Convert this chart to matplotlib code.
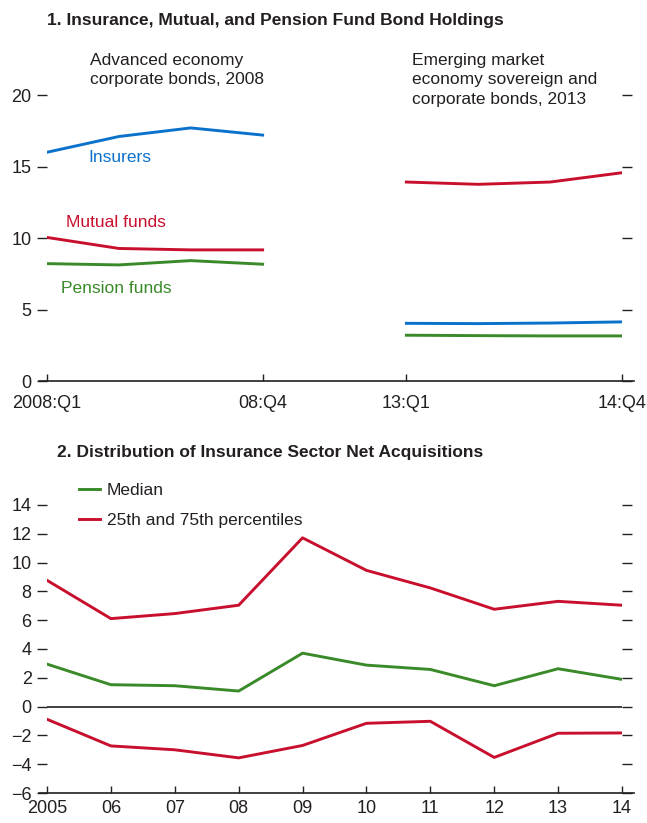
import matplotlib
matplotlib.use("Agg")
import matplotlib.pyplot as plt
import numpy as np

plt.rcParams['font.family'] = ['Liberation Sans', 'DejaVu Sans']
plt.rcParams['axes.unicode_minus'] = True

# ---- Panel 1 data ----
adv_quarters = ["2008:Q1", "08:Q2", "08:Q3", "08:Q4"]
em_quarters = ["13:Q1", "13:Q2", "13:Q3", "14:Q4"]
insurers_2008 = [16.0, 17.1, 17.7, 17.2]
mutual_2008 = [10.05, 9.28, 9.18, 9.18]
pension_2008 = [8.22, 8.13, 8.43, 8.18]
insurers_2013 = [4.05, 4.03, 4.07, 4.15]
mutual_2013 = [13.92, 13.76, 13.92, 14.57]
pension_2013 = [3.22, 3.19, 3.17, 3.17]
p1_xlabels = ["2008:Q1", "08:Q4", "13:Q1", "14:Q4"]
p1_yticks = [0, 5, 10, 15, 20]

# ---- Panel 2 data ----
years = ["2005", "06", "07", "08", "09", "10", "11", "12", "13", "14"]
p75 = [8.77, 6.11, 6.46, 7.04, 11.72, 9.46, 8.24, 6.76, 7.31, 7.04]
median = [2.95, 1.52, 1.45, 1.08, 3.71, 2.88, 2.58, 1.45, 2.63, 1.89]
p25 = [-0.88, -2.73, -3.0, -3.56, -2.7, -1.16, -1.02, -3.53, -1.85, -1.83]
p2_yticks = [-6, -4, -2, 0, 2, 4, 6, 8, 10, 12, 14]

BLUE = '#0b72cc'
RED = '#c8102e'
GREEN = '#3a8a2a'
TXT = '#231f20'
FS = 12.5
TFS = 13
LW = 2.1

W, H = 647, 823
fig = plt.figure(figsize=(W / 100, H / 100), dpi=100)

def style(ax, xpad):
    for s in ['top', 'left', 'right', 'bottom']:
        ax.spines[s].set_visible(False)
    ax.tick_params(axis='y', which='both', direction='out', length=7, width=1,
                   color=TXT, labelsize=TFS, labelcolor=TXT, pad=4,
                   left=True, right=True, labelleft=True, labelright=False)
    ax.tick_params(axis='x', direction='in', length=5, width=1, color=TXT,
                   labelsize=TFS, labelcolor=TXT, pad=xpad)
    ax.plot([-0.014, 1.02], [0, 0], transform=ax.transAxes, color=TXT,
            lw=1.2, clip_on=False, zorder=5)

# ---------- Panel 1 ----------
ax1 = fig.add_axes([47 / W, 1 - 381.3 / H, 575 / W, 286.3 / H])
style(ax1, 10)
x_adv = np.arange(len(adv_quarters))
x_em = np.arange(len(em_quarters)) + 5
ax1.plot(x_adv, insurers_2008, color=BLUE, lw=LW, solid_joinstyle='round')
ax1.plot(x_adv, mutual_2008, color=RED, lw=LW, solid_joinstyle='round')
ax1.plot(x_adv, pension_2008, color=GREEN, lw=LW, solid_joinstyle='round')
ax1.plot(x_em, insurers_2013, color=BLUE, lw=LW, solid_joinstyle='round')
ax1.plot(x_em, mutual_2013, color=RED, lw=LW, solid_joinstyle='round')
ax1.plot(x_em, pension_2013, color=GREEN, lw=LW, solid_joinstyle='round')
ax1.set_xlim(0, 8)
ax1.set_ylim(0, 20)
ax1.set_yticks(p1_yticks)
ax1.set_xticks([0, 3, 5, 8])
ax1.set_xticklabels(p1_xlabels)

ax1.text(0.57, 15.6, "Insurers", color=BLUE, fontsize=FS, va='center')
ax1.text(0.26, 11.06, "Mutual funds", color=RED, fontsize=FS, va='center')
ax1.text(0.19, 6.5, "Pension funds", color=GREEN, fontsize=FS, va='center')

ax1.text(0.6, 21.75, "Advanced economy\ncorporate bonds, 2008", color=TXT,
         fontsize=FS, va='center', ha='left', linespacing=1.4, clip_on=False)
ax1.text(5.08, 21.05, "Emerging market\neconomy sovereign and\ncorporate bonds, 2013",
         color=TXT, fontsize=FS, va='center', ha='left', linespacing=1.4, clip_on=False)

fig.text(47 / W, 1 - 21 / H, "1. Insurance, Mutual, and Pension Fund Bond Holdings",
         fontsize=FS, fontweight='bold', color=TXT, va='center', ha='left')

# ---------- Panel 2 ----------
ax2 = fig.add_axes([47 / W, 1 - 793 / H, 575 / W, 288 / H])
style(ax2, 5)
x = np.arange(len(years))
ax2.axhline(0, color=TXT, lw=1.2, zorder=1)
l1, = ax2.plot(x, median, color=GREEN, lw=LW, solid_joinstyle='round')
l2, = ax2.plot(x, p75, color=RED, lw=LW, solid_joinstyle='round')
ax2.plot(x, p25, color=RED, lw=LW, solid_joinstyle='round')
ax2.set_xlim(0, len(years) - 1)
ax2.set_ylim(-6, 14)
ax2.set_yticks(p2_yticks)
ax2.set_xticks(x)
ax2.set_xticklabels(years)

leg = ax2.legend([l1, l2], ["Median", "25th and 75th percentiles"],
                 loc='upper left', bbox_to_anchor=(0.044, 1.1), frameon=False,
                 fontsize=FS, handlelength=1.2, handletextpad=0.4,
                 labelspacing=0.85, borderaxespad=0, labelcolor=TXT)

fig.text(57 / W, 1 - 453 / H, "2. Distribution of Insurance Sector Net Acquisitions",
         fontsize=FS, fontweight='bold', color=TXT, va='center', ha='left')

fig.savefig("out.png", dpi=100)
